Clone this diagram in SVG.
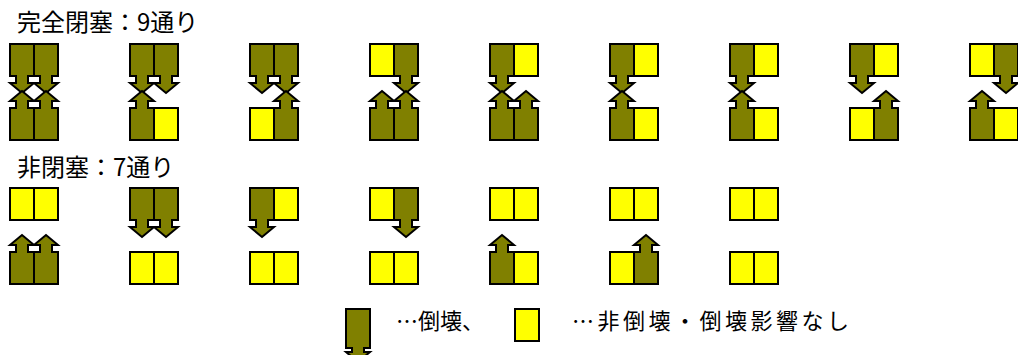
<svg xmlns="http://www.w3.org/2000/svg" width="1018" height="355" viewBox="0 0 1018 355">
  <style>
    .t { font-family: "Noto Sans CJK JP", "Noto Sans", sans-serif; fill: #000; }
    .ok { fill: #FFFF00; stroke: #000; stroke-width: 2; }
    .fall { fill: #808000; stroke: #000; stroke-width: 2; stroke-linejoin: miter; }
  </style>
  <defs>
    <!-- standing building -->
    <rect id="ok" class="ok" x="0" y="0" width="24" height="32"/>
    <!-- building collapsing downward (top side) -->
    <path id="dn" class="fall" d="M0,0 H24 V32 H18 V39 H24 L12,49 L0,39 H6 V32 H0 Z"/>
    <!-- building collapsing upward (bottom side) -->
    <path id="up" class="fall" d="M0,32 H24 V0 H18 V-7 H24 L12,-17 L0,-7 H6 V0 H0 Z"/>
  </defs>
  <rect width="1018" height="355" fill="#fff"/>

  <text class="t" x="17" y="31" font-size="24">完全閉塞：9通り</text>
  <text class="t" x="17" y="176" font-size="24">非閉塞：7通り</text>

  <!-- complete blockage: 9 cases -->
  <g id="blocked">
    <g id="b1"><use href="#dn" x="10" y="44"/><use href="#dn" x="34" y="44"/><use href="#up" x="10" y="108"/><use href="#up" x="34" y="108"/></g>
    <g id="b2"><use href="#ok" x="154" y="108"/><use href="#dn" x="130" y="44"/><use href="#dn" x="154" y="44"/><use href="#up" x="130" y="108"/></g>
    <g id="b3"><use href="#ok" x="250" y="108"/><use href="#dn" x="250" y="44"/><use href="#dn" x="274" y="44"/><use href="#up" x="274" y="108"/></g>
    <g id="b4"><use href="#ok" x="370" y="44"/><use href="#dn" x="394" y="44"/><use href="#up" x="370" y="108"/><use href="#up" x="394" y="108"/></g>
    <g id="b5"><use href="#ok" x="514" y="44"/><use href="#dn" x="490" y="44"/><use href="#up" x="490" y="108"/><use href="#up" x="514" y="108"/></g>
    <g id="b6"><use href="#ok" x="634" y="44"/><use href="#ok" x="634" y="108"/><use href="#dn" x="610" y="44"/><use href="#up" x="610" y="108"/></g>
    <g id="b7"><use href="#ok" x="754" y="44"/><use href="#ok" x="754" y="108"/><use href="#dn" x="730" y="44"/><use href="#up" x="730" y="108"/></g>
    <g id="b8"><use href="#ok" x="874" y="44"/><use href="#ok" x="850" y="108"/><use href="#dn" x="850" y="44"/><use href="#up" x="874" y="108"/></g>
    <g id="b9"><use href="#ok" x="970" y="44"/><use href="#ok" x="994" y="108"/><use href="#dn" x="994" y="44"/><use href="#up" x="970" y="108"/></g>
  </g>

  <!-- no blockage: 7 cases -->
  <g id="open">
    <g id="o1"><use href="#ok" x="10" y="188"/><use href="#ok" x="34" y="188"/><use href="#up" x="10" y="252"/><use href="#up" x="34" y="252"/></g>
    <g id="o2"><use href="#ok" x="130" y="252"/><use href="#ok" x="154" y="252"/><use href="#dn" x="130" y="188"/><use href="#dn" x="154" y="188"/></g>
    <g id="o3"><use href="#ok" x="274" y="188"/><use href="#ok" x="250" y="252"/><use href="#ok" x="274" y="252"/><use href="#dn" x="250" y="188"/></g>
    <g id="o4"><use href="#ok" x="370" y="188"/><use href="#ok" x="370" y="252"/><use href="#ok" x="394" y="252"/><use href="#dn" x="394" y="188"/></g>
    <g id="o5"><use href="#ok" x="490" y="188"/><use href="#ok" x="514" y="188"/><use href="#ok" x="514" y="252"/><use href="#up" x="490" y="252"/></g>
    <g id="o6"><use href="#ok" x="610" y="188"/><use href="#ok" x="634" y="188"/><use href="#ok" x="610" y="252"/><use href="#up" x="634" y="252"/></g>
    <g id="o7"><use href="#ok" x="730" y="188"/><use href="#ok" x="754" y="188"/><use href="#ok" x="730" y="252"/><use href="#ok" x="754" y="252"/></g>
  </g>

  <!-- legend -->
  <g id="legend">
    <path class="fall" d="M346,309 H370 V348 H364 V352 H370 L358,362 L346,352 H352 V348 H346 Z"/>
    <text class="t" x="396" y="329" font-size="22">…倒壊、</text>
    <rect class="ok" x="515" y="309" width="24" height="32"/>
    <text class="t" x="572" y="329" font-size="22" letter-spacing="3.5">…非倒壊・倒壊影響なし</text>
  </g>
</svg>
